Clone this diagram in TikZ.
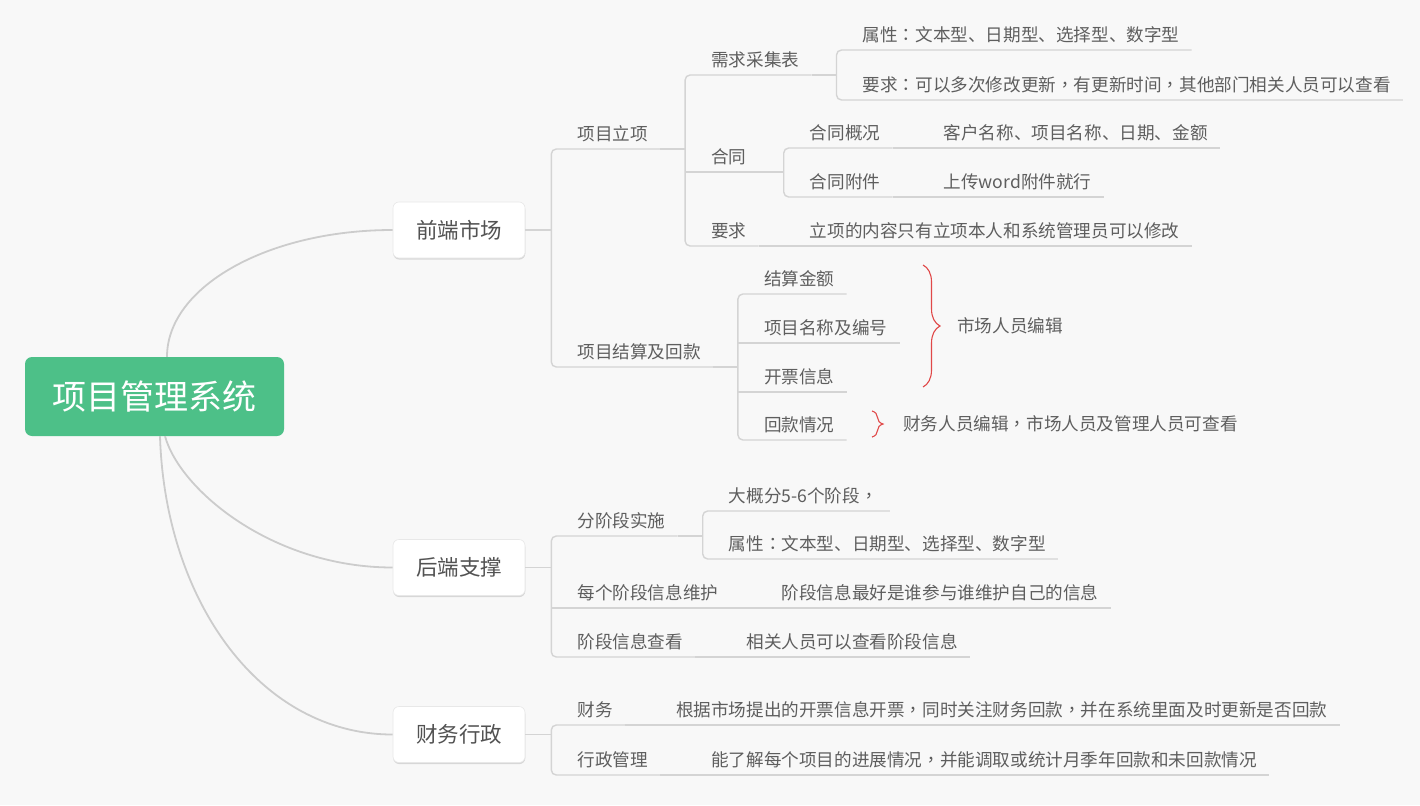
\documentclass[tikz,border=0pt]{standalone}
\usepackage{fontspec}
\setmainfont{Noto Sans CJK SC}
\newfontfamily\tcpunct{Noto Sans CJK TC}
\newcommand{\cc}{{\tcpunct ：}}
\newcommand{\cm}{{\tcpunct ，}}
\usetikzlibrary{shadows,decorations.pathreplacing}
\definecolor{bgc}{HTML}{F8F8F8}
\definecolor{lnc}{HTML}{D4D4D4}
\definecolor{cvc}{HTML}{CCCCCC}
\definecolor{txc}{HTML}{5E5E5E}
\definecolor{t1c}{HTML}{525252}
\definecolor{grn}{HTML}{4DC088}
\definecolor{rdc}{HTML}{E04848}
\begin{document}
\begin{tikzpicture}[x=1pt,y=-1pt,
  tp/.style={anchor=south west, inner sep=0pt, text depth=8.3pt, text height=14pt,
    font=\fontsize{17.6}{20}\selectfont, text=txc,
    execute at begin node={\hspace*{26pt}}, execute at end node={\hspace*{12pt}}},
  note/.style={anchor=west, inner sep=0pt, font=\fontsize{17.6}{20}\selectfont, text=txc},
  rootbox/.style={rounded corners=7pt, minimum width=259pt, minimum height=79pt,
    fill=grn, text=white, inner sep=0pt, font=\fontsize{34}{38}\selectfont},
  lone/.style={rounded corners=6pt, minimum width=132pt, minimum height=56pt, inner sep=0pt,
    fill=white, draw=black!9, line width=0.6pt, text=t1c, font=\fontsize{21.5}{24}\selectfont,
    drop shadow={shadow xshift=0.3pt, shadow yshift=-1.6pt, fill=black, opacity=0.13}},
  conn/.style={draw=lnc, line width=1.4pt},
  rc/.style={rounded corners=5pt},
  rootc/.style={draw=cvc, line width=1.8pt},
  brc/.style={draw=rdc, line width=1.1pt, decorate, decoration={brace, amplitude=#1}}
]
\fill[bgc] (0,0) rectangle (1420,805);
\useasboundingbox (0,0) rectangle (1420,805);

% main nodes
\node[rootbox] (root) at (154.5,396.5) {项目管理系统};
\node[lone] (fm) at (459,230) {前端市场};
\node[lone] (hd) at (459,567.5) {后端支撑};
\node[lone] (cw) at (459,734.5) {财务行政};

% branch 1
\node[tp] (xmlx) at ([xshift=26pt]fm.east |- 0,149) {项目立项};
\node[tp] (xmjs) at ([xshift=26pt]fm.east |- 0,367) {项目结算及回款};
\node[tp] (xqcj) at ([xshift=25pt]xmlx.south east |- 0,75) {需求采集表};
\node[tp] (ht) at ([xshift=25pt]xmlx.south east |- 0,172) {合同};
\node[tp] (yq) at ([xshift=25pt]xmlx.south east |- 0,246) {要求};
\node[tp] (sxa) at ([xshift=25pt]xqcj.south east |- 0,50) {属性\cc 文本型、日期型、选择型、数字型};
\node[tp] (yqb) at ([xshift=25pt]xqcj.south east |- 0,100) {要求\cc 可以多次修改更新\cm 有更新时间\cm 其他部门相关人员可以查看};
\node[tp] (htgk) at ([xshift=25pt]ht.south east |- 0,148) {合同概况};
\node[tp] (htfj) at ([xshift=25pt]ht.south east |- 0,197) {合同附件};
\node[tp] (khmc) at ([xshift=25pt]htgk.south east) {客户名称、项目名称、日期、金额};
\node[tp] (scw) at ([xshift=25pt]htfj.south east) {上传word附件就行};
\node[tp] (lxnr) at ([xshift=25pt]yq.south east) {立项的内容只有立项本人和系统管理员可以修改};
\node[tp] (jsje) at ([xshift=25pt]xmjs.south east |- 0,294) {结算金额};
\node[tp] (xmmc) at ([xshift=25pt]xmjs.south east |- 0,343) {项目名称及编号};
\node[tp] (kpxx) at ([xshift=25pt]xmjs.south east |- 0,392) {开票信息};
\node[tp] (hkqk) at ([xshift=25pt]xmjs.south east |- 0,440) {回款情况};

% branch 2
\node[tp] (fjd) at ([xshift=26pt]hd.east |- 0,536) {分阶段实施};
\node[tp] (mgjd) at ([xshift=26pt]hd.east |- 0,608) {每个阶段信息维护};
\node[tp] (jdck) at ([xshift=26pt]hd.east |- 0,657) {阶段信息查看};
\node[tp] (dgf) at ([xshift=25pt]fjd.south east |- 0,511) {大概分5-6个阶段\cm};
\node[tp] (sxb) at ([xshift=25pt]fjd.south east |- 0,559) {属性\cc 文本型、日期型、选择型、数字型};
\node[tp] (jdxx) at ([xshift=25pt]mgjd.south east) {阶段信息最好是谁参与谁维护自己的信息};
\node[tp] (xgry) at ([xshift=25pt]jdck.south east) {相关人员可以查看阶段信息};

% branch 3
\node[tp] (cwu) at ([xshift=26pt]cw.east |- 0,725) {财务};
\node[tp] (xzgl) at ([xshift=26pt]cw.east |- 0,775) {行政管理};
\node[tp] (gjsc) at ([xshift=25pt]cwu.south east) {根据市场提出的开票信息开票\cm 同时关注财务回款\cm 并在系统里面及时更新是否回款};
\node[tp] (nlj) at ([xshift=25pt]xzgl.south east) {能了解每个项目的进展情况\cm 并能调取或统计月季年回款和未回款情况};

% root curves
\draw[rootc] ([xshift=12.5pt]root.north) .. controls +(0,-70) and +(-125,0) .. (fm.west);
\draw[rootc] ([xshift=10.5pt]root.south) .. controls +(15,54) and +(-120,0) .. (hd.west);
\draw[rootc] ([xshift=5.5pt]root.south) .. controls +(5,164) and +(-133,0) .. (cw.west);

% branch 1 connectors
\draw[conn] (fm.east) -- (fm.east -| xmlx.south west);
\draw[conn,rc] (xmlx.south east) -- (xmlx.south west) -- (xmjs.south west) -- (xmjs.south east);
\draw[conn] (xmlx.south east) -- (xmlx.south east -| xqcj.south west);
\draw[conn,rc] (xqcj.south east) -- (xqcj.south west) -- (yq.south west) -- (yq.south east);
\draw[conn] (ht.south west) -- (ht.south east);
\draw[conn] (xqcj.south east) -- (xqcj.south east -| sxa.south west);
\draw[conn,rc] (sxa.south east) -- (sxa.south west) -- (yqb.south west) -- (yqb.south east);
\draw[conn] (ht.south east) -- (ht.south east -| htgk.south west);
\draw[conn,rc] (htgk.south east) -- (htgk.south west) -- (htfj.south west) -- (htfj.south east);
\draw[conn] (htgk.south east) -- (khmc.south west) -- (khmc.south east);
\draw[conn] (htfj.south east) -- (scw.south west) -- (scw.south east);
\draw[conn] (yq.south east) -- (lxnr.south west) -- (lxnr.south east);
\draw[conn] (xmjs.south east) -- (xmjs.south east -| jsje.south west);
\draw[conn,rc] (jsje.south east) -- (jsje.south west) -- (hkqk.south west) -- (hkqk.south east);
\draw[conn] (xmmc.south west) -- (xmmc.south east);
\draw[conn] (kpxx.south west) -- (kpxx.south east);

% branch 2 connectors
\draw[conn] (hd.east) -- (hd.east -| fjd.south west);
\draw[conn,rc] (fjd.south east) -- (fjd.south west) -- (jdck.south west) -- (jdck.south east);
\draw[conn] (mgjd.south west) -- (mgjd.south east);
\draw[conn] (fjd.south east) -- (fjd.south east -| dgf.south west);
\draw[conn,rc] (dgf.south east) -- (dgf.south west) -- (sxb.south west) -- (sxb.south east);
\draw[conn] (mgjd.south east) -- (jdxx.south west) -- (jdxx.south east);
\draw[conn] (jdck.south east) -- (xgry.south west) -- (xgry.south east);

% branch 3 connectors
\draw[conn] (cw.east) -- (cw.east -| cwu.south west);
\draw[conn,rc] (cwu.south east) -- (cwu.south west) -- (xzgl.south west) -- (xzgl.south east);
\draw[conn] (cwu.south east) -- (gjsc.south west) -- (gjsc.south east);
\draw[conn] (xzgl.south east) -- (nlj.south west) -- (nlj.south east);

% braces and notes
\coordinate (bra) at (923,265);
\coordinate (brb) at (923,387);
\draw[brc=17pt] (bra) -- (brb);
\node[note] (scry) at (957,326) {市场人员编辑};
\coordinate (bsa) at (872,411);
\coordinate (bsb) at (872,437);
\draw[brc=11pt] (bsa) -- (bsb);
\node[note] (cwry) at (903,424) {财务人员编辑\cm 市场人员及管理人员可查看};
\end{tikzpicture}
\end{document}
